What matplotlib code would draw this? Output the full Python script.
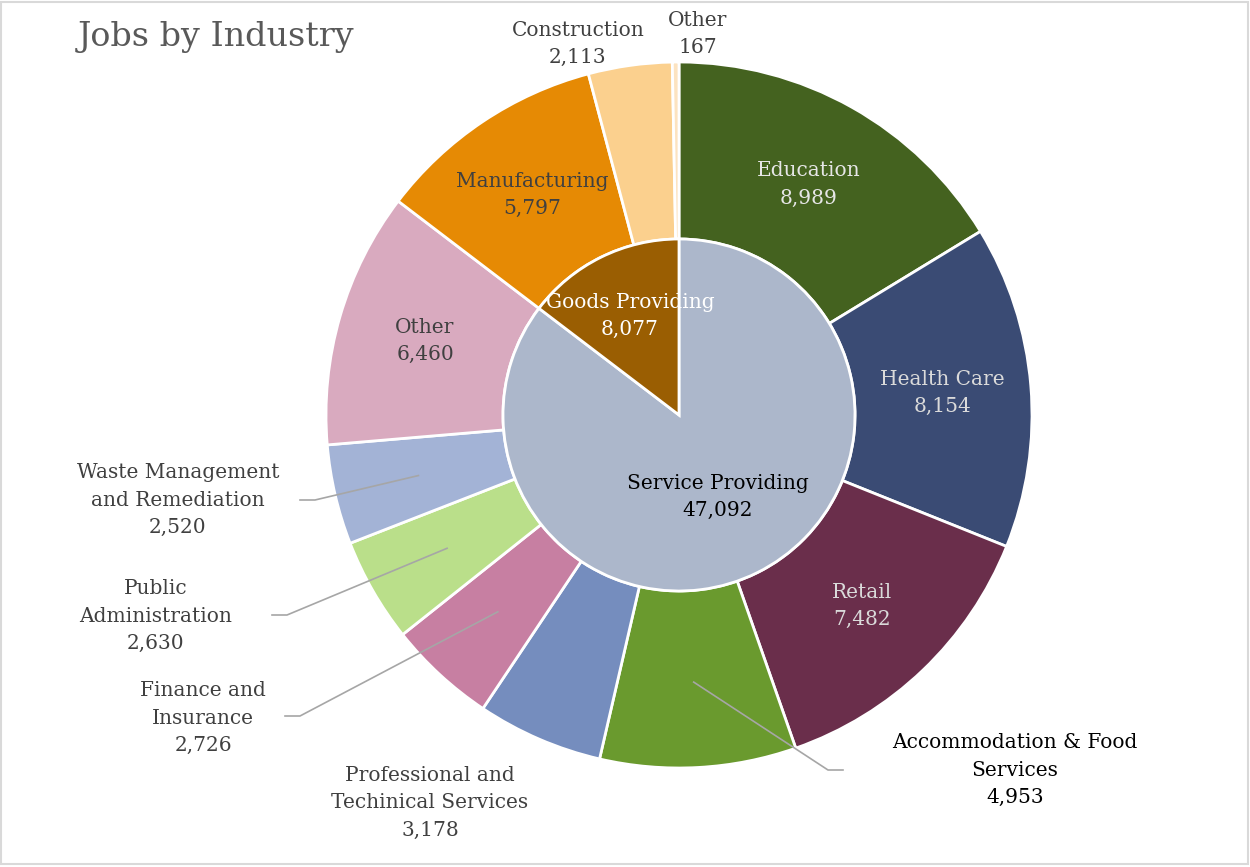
import numpy as np
import matplotlib
matplotlib.use("Agg")
import matplotlib.pyplot as plt
from matplotlib.patches import Rectangle

# Sektoren (innerer Ring)
sektoren = ["Service Providing", "Goods Providing"]
sektor_werte = [47092, 8077]
sektor_farben = ["#ACB7CB", "#9A5E02"]

# Branchen (äußerer Ring), im Uhrzeigersinn ab 12 Uhr
branchen = ["Education", "Health Care", "Retail", "Accommodation & Food\nServices",
            "Professional and\nTechinical Services", "Finance and\nInsurance",
            "Public\nAdministration", "Waste Management\nand Remediation", "Other",
            "Manufacturing", "Construction", "Other"]
branchen_werte = [8989, 8154, 7482, 4953, 3178, 2726, 2630, 2520, 6460, 5797, 2113, 167]
branchen_farben = ["#44621F", "#3A4B74", "#6A2E4B", "#6A9A2E", "#758DBE", "#C77FA2",
                   "#BADF8A", "#A3B3D6", "#D9AABF", "#E68A04", "#FBD08E", "#FCE3C0"]

W, H = 1250, 867
cx, cy = 679, H - 415
R_aussen, R_innen = 353, 176
schrift = "DejaVu Serif"

fig = plt.figure(figsize=(W / 100, H / 100), dpi=100)
ax = fig.add_axes([0, 0, 1, 1])

rand = dict(edgecolor="white", linewidth=2)
ax.pie(branchen_werte, colors=branchen_farben, startangle=90, counterclock=False,
       center=(cx, cy), radius=R_aussen, frame=True,
       wedgeprops=dict(width=R_aussen - R_innen, **rand))
ax.pie(sektor_werte, colors=sektor_farben, startangle=90, counterclock=False,
       center=(cx, cy), radius=R_innen, frame=True, wedgeprops=rand)
ax.set_xlim(0, W)
ax.set_ylim(0, H)
ax.set_aspect("equal")
ax.axis("off")


def mitte(werte, i, r):
    # Punkt auf Radius r in der Mitte des i-ten Segments
    s = sum(werte)
    f = (sum(werte[:i]) + werte[i] / 2) / s
    a = np.deg2rad(90 - 360 * f)
    return cx + r * np.cos(a), cy + r * np.sin(a)


def txt(x, y, s, farbe, gr=14.5):
    ax.text(x, y, s, ha="center", va="center", color=farbe, fontsize=gr,
            family=schrift, linespacing=1.55)


r_mitte = (R_aussen + R_innen) / 2
# Beschriftungen im Ring
innen = {0: "#E6E6E6", 1: "#DADADA", 2: "#DADADA", 8: "#404040", 9: "#404040"}
for i, farbe in innen.items():
    x, y = mitte(branchen_werte, i, r_mitte)
    txt(x, y, f"{branchen[i]}\n{branchen_werte[i]:,}", farbe)

# Beschriftungen außen (Textposition in Pixeln, ggf. Endpunkt der Führungslinie)
aussen = {
    3: ((1015, 770), (843, 770), "black"),
    4: ((430, 803), None, "#404040"),
    5: ((203, 718), (285, 716), "#404040"),
    6: ((156, 616), (272, 615), "#404040"),
    7: ((178, 500), (300, 500), "#404040"),
    10: ((578, 44), None, "#404040"),
    11: ((698, 34), None, "#404040"),
}
for i, ((lx, ly), ende, farbe) in aussen.items():
    txt(lx, H - ly, f"{branchen[i]}\n{branchen_werte[i]:,}", farbe)
    if ende is not None:
        x0, y0 = mitte(branchen_werte, i, r_mitte + 3)
        ex, ey = ende
        dx = 15 if ex < cx else -15
        ax.plot([x0, ex + dx, ex], [y0, H - ey, H - ey], color="#A6A6A6", lw=1.2)

# innerer Ring
txt(718, H - 497, f"{sektoren[0]}\n{sektor_werte[0]:,}", "black")
txt(630, H - 316, f"{sektoren[1]}\n{sektor_werte[1]:,}", "white")

ax.text(78, H - 37, "Jobs by Industry", fontsize=24, color="#595959", family=schrift,
        ha="left", va="center")

fig.patches.append(Rectangle((0.001, 0.003), 0.997, 0.995, transform=fig.transFigure,
                             fill=False, edgecolor="#D9D9D9", linewidth=1.5))

fig.savefig("out.png", dpi=100)
